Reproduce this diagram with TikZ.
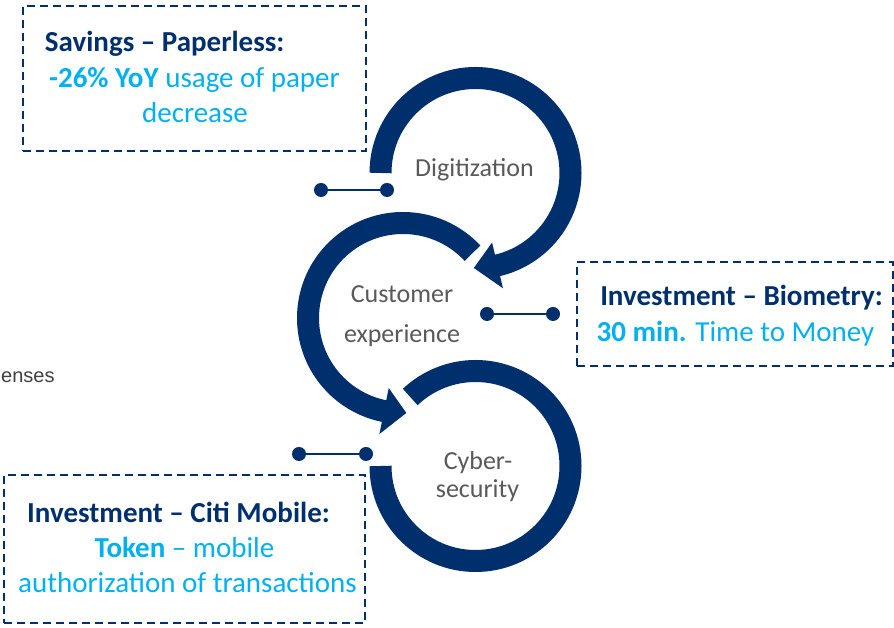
\documentclass[tikz,border=0pt]{standalone}
\usepackage{fontspec}
\setmainfont{Carlito}
\newfontfamily\arialfont{Liberation Sans}
\usetikzlibrary{calc}
\definecolor{navy}{RGB}{0,47,110}
\definecolor{sky}{RGB}{0,176,240}
\definecolor{txtgray}{RGB}{89,89,89}
\definecolor{darkgray}{RGB}{64,64,64}
\begin{document}
\begin{tikzpicture}[x=1pt,y=1pt,
  ring/.style={navy,line width=22pt},
  head/.style={fill=navy},
  dot/.style={circle,fill=navy,inner sep=0pt,minimum size=14pt},
  stem/.style={navy,line width=2.5pt},
  box/.style={draw=navy,dash pattern=on 8pt off 5pt,line width=2pt,inner sep=0pt,rectangle},
  lbl/.style={anchor=base,inner sep=0pt,text=txtgray,font=\fontsize{26}{30}\selectfont},
  hd/.style={anchor=base,inner sep=0pt,text=navy,font=\fontsize{29}{35}\selectfont\bfseries},
  bd/.style={anchor=base,inner sep=0pt,text=sky,font=\fontsize{29}{35}\selectfont}]
\useasboundingbox (0,0) rectangle (894,628);

% centres
\coordinate (c1) at (475.5,455);
\coordinate (c2) at (403,310);
\coordinate (c3) at (475.5,162);

% ring 1 (Digitization)
\draw[ring] ($(c1)+(180:95)$) arc[start angle=180,end angle=-77.2,radius=95];
\fill[head] ($(c1)+(-91:95)$) -- ($(c1)+(-76.6:118.5)$) -- ($(c1)+(-76.6:71.5)$) -- cycle;

% ring 2 (Customer experience)
\draw[ring] ($(c2)+(43:95)$) arc[start angle=43,end angle=259.1,radius=95];
\fill[head] ($(c2)+(272:95)$) -- ($(c2)+(258.5:118.5)$) -- ($(c2)+(258.5:71.5)$) -- cycle;

% ring 3 (Cybersecurity)
\draw[ring] ($(c3)+(180:95)$) arc[start angle=180,end angle=493.4,radius=95];

% circle labels
\node[lbl] (dig) at (474.5,451) {Digitization};
\node[lbl] (cus1) at (402,325) {Customer};
\node[lbl] (cus2) at (402,285) {experience};
\node[lbl] (cyb1) at (478,158) {Cyber-};
\node[lbl] (cyb2) at (477.5,130) {security};

% dumbbells
\node[dot] (d1a) at (321,438) {};
\node[dot] (d1b) at (387,438) {};
\draw[stem] (d1a) -- (d1b);
\node[dot] (d2a) at (487,314) {};
\node[dot] (d2b) at (553,314) {};
\draw[stem] (d2a) -- (d2b);
\node[dot] (d3a) at (299,174) {};
\node[dot] (d3b) at (366,174) {};
\draw[stem] (d3a) -- (d3b);

% boxes
\node[box,minimum width=343pt,minimum height=145pt] (b1) at (194.5,549.5) {};
\node[box,minimum width=316pt,minimum height=104pt] (b2) at (735,314) {};
\node[box,minimum width=361pt,minimum height=148pt] (b3) at (184.5,79) {};

% box 1 text
\node[hd] (t11) at (164.7,576) {Savings – Paperless:};
\node[bd] (t12) at (194.5,540) {\textbf{-26\% YoY} usage of paper};
\node[bd] (t13) at (195,505) {decrease};

% box 2 text
\node[hd] (t21) at (741.5,322) {Investment – Biometry:};
\node[bd] (t22) at (735.5,286) {\textbf{30 min.} Time to Money};

% box 3 text
\node[hd] (t31) at (178.5,105) {Investment – Citi Mobile:};
\node[bd] (t32) at (184.5,70) {\textbf{Token} – mobile};
\node[bd] (t33) at (187.5,35) {authorization of transactions};

% text at left edge
\node[anchor=base west,inner sep=0pt,text=darkgray,font=\fontsize{20}{24}\selectfont\arialfont] (cut) at (1,245) {enses};
\end{tikzpicture}
\end{document}
